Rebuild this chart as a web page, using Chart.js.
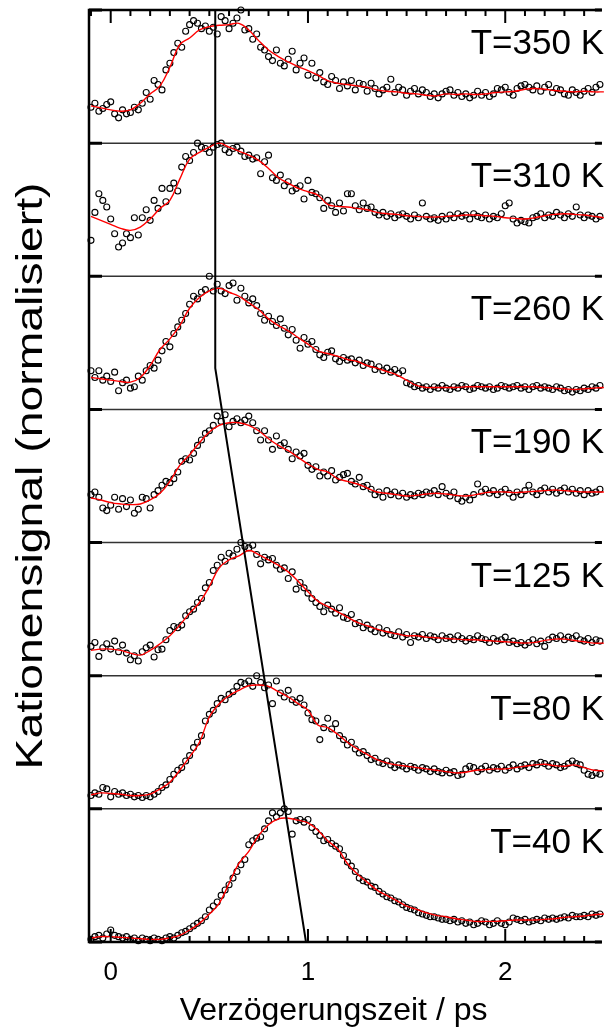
<!DOCTYPE html>
<html>
<head>
<meta charset="utf-8">
<script src="https://cdn.jsdelivr.net/npm/chart.js@4.4.0/dist/chart.umd.min.js"></script>
<style>
  html, body { margin: 0; padding: 0; background: #fff; }
  canvas { display: block; }
</style>
</head>
<body>
<canvas id="chart" width="607" height="1028"></canvas>
<script>
// delay grid of the measured points (ps)
const delay = [
  -0.10,-0.08,-0.06,-0.04,-0.02,0.00,0.02,0.04,0.06,0.08,
  0.10,0.12,0.14,0.16,0.18,0.20,0.22,0.24,0.26,0.28,
  0.30,0.32,0.34,0.36,0.38,0.40,0.42,0.44,0.46,0.48,
  0.50,0.52,0.54,0.56,0.58,0.60,0.62,0.64,0.66,0.68,
  0.70,0.72,0.74,0.76,0.78,0.80,0.82,0.84,0.86,0.88,
  0.90,0.92,0.94,0.96,0.98,1.00,1.02,1.04,1.06,1.08,
  1.10,1.12,1.14,1.16,1.18,1.20,1.22,1.24,1.26,1.28,
  1.30,1.32,1.34,1.36,1.38,1.40,1.42,1.44,1.46,1.48,
  1.50,1.52,1.54,1.56,1.58,1.60,1.62,1.64,1.66,1.68,
  1.70,1.72,1.74,1.76,1.78,1.80,1.82,1.84,1.86,1.88,
  1.90,1.92,1.94,1.96,1.98,2.00,2.02,2.04,2.06,2.08,
  2.10,2.12,2.14,2.16,2.18,2.20,2.22,2.24,2.26,2.28,
  2.30,2.32,2.34,2.36,2.38,2.40,2.42,2.44,2.46,2.48
];

// delay grid of the smoothed (red) curves
const fitDelay = [
  -0.10,-0.05,0.00,0.05,0.10,0.15,0.20,0.25,0.30,0.35,
  0.40,0.45,0.50,0.55,0.60,0.65,0.70,0.75,0.80,0.85,
  0.90,0.95,1.00,1.05,1.10,1.15,1.20,1.25,1.30,1.35,
  1.40,1.45,1.50,1.55,1.60,1.65,1.70,1.75,1.80,1.85,
  1.90,1.95,2.00,2.05,2.10,2.15,2.20,2.25,2.30,2.35,
  2.40,2.45,2.50
];

// panels from top to bottom
const temps = [350, 310, 260, 190, 125, 80, 40];
const xTicks = [0, 1, 2];

// normalised cation signal, each panel 0..1
const sig350 = [
  .27,.30,.24,.26,.29,.31,.22,.19,.25,.22,
  .23,.27,.25,.30,.38,.33,.47,.44,.40,.55,
  .60,.68,.75,.72,.84,.89,.92,.90,.86,.88,
  .84,.87,.82,.95,.92,.86,.90,.94,1.00,.85,
  .86,.78,.82,.72,.70,.65,.62,.70,.60,.58,
  .63,.69,.55,.60,.64,.51,.60,.49,.53,.46,
  .44,.50,.47,.41,.46,.43,.47,.40,.45,.44,
  .39,.45,.41,.37,.40,.42,.48,.38,.42,.40,
  .36,.39,.41,.37,.40,.38,.35,.37,.34,.37,
  .39,.40,.36,.38,.35,.37,.34,.36,.39,.36,
  .38,.35,.37,.41,.40,.42,.38,.36,.41,.43,
  .44,.42,.40,.43,.39,.42,.44,.38,.41,.40,
  .37,.36,.40,.38,.36,.39,.41,.38,.42,.44
];
const fit350 = [
  .28,.265,.25,.24,.25,.30,.37,.43,.57,.74,
  .79,.85,.875,.885,.89,.90,.85,.77,.70,.65,
  .61,.575,.545,.51,.47,.45,.44,.43,.42,.40,
  .39,.385,.375,.37,.36,.355,.37,.365,.37,.365,
  .37,.38,.385,.39,.405,.41,.405,.395,.39,.385,
  .39,.385,.385
];

const sig310 = [
  .27,.48,.62,.57,.52,.43,.32,.22,.25,.32,
  .29,.44,.31,.44,.50,.42,.57,.51,.66,.56,
  .66,.70,.64,.82,.90,.87,.93,1.00,.97,.96,
  .93,.97,.99,1.00,.95,.93,.96,.97,.94,.90,
  .91,.88,.89,.77,.86,.91,.74,.72,.76,.68,
  .71,.64,.66,.68,.58,.72,.63,.62,.59,.51,
  .57,.53,.48,.55,.49,.62,.62,.53,.50,.55,
  .51,.52,.48,.46,.48,.45,.47,.44,.46,.47,
  .45,.43,.46,.44,.55,.45,.43,.44,.42,.45,
  .43,.46,.44,.47,.45,.46,.43,.47,.45,.44,
  .46,.43,.45,.44,.47,.53,.55,.43,.40,.42,
  .41,.40,.44,.45,.47,.44,.46,.45,.48,.46,
  .44,.47,.45,.52,.46,.44,.46,.45,.43,.45
];
const fit310 = [
  .45,.42,.39,.36,.345,.37,.43,.51,.57,.73,
  .88,.93,.97,1.00,.97,.94,.91,.87,.81,.74,
  .70,.66,.635,.61,.54,.525,.52,.51,.50,.48,
  .47,.465,.455,.45,.445,.445,.45,.455,.46,.46,
  .455,.45,.44,.435,.43,.44,.455,.465,.47,.465,
  .46,.45,.44
];

const sig260 = [
  .29,.24,.29,.22,.25,.21,.28,.14,.20,.22,
  .16,.17,.25,.22,.29,.33,.31,.37,.44,.51,
  .47,.57,.62,.67,.72,.79,.85,.83,.88,.90,
  1.00,.89,.94,.89,.87,.93,.95,.82,.91,.85,
  .80,.83,.78,.72,.67,.70,.66,.63,.68,.61,
  .56,.60,.52,.46,.54,.49,.51,.45,.41,.39,
  .43,.44,.38,.36,.39,.37,.38,.35,.37,.33,
  .35,.34,.30,.32,.29,.31,.28,.30,.27,.29,
  .20,.19,.17,.18,.16,.17,.15,.17,.16,.18,
  .16,.15,.17,.16,.18,.17,.15,.16,.18,.17,
  .16,.17,.15,.16,.18,.17,.16,.17,.18,.16,
  .17,.15,.17,.18,.16,.17,.16,.15,.17,.16,
  .14,.15,.13,.15,.14,.16,.15,.17,.16,.18
];
const fit260 = [
  .24,.23,.22,.21,.205,.24,.33,.45,.53,.63,
  .76,.84,.89,.91,.88,.85,.80,.75,.68,.63,
  .59,.54,.49,.44,.42,.40,.375,.36,.33,.31,
  .285,.26,.22,.18,.165,.165,.165,.165,.17,.17,
  .17,.17,.17,.17,.17,.17,.165,.16,.155,.15,
  .155,.16,.165
];

const sig190 = [
  .36,.38,.34,.26,.24,.28,.34,.25,.33,.27,
  .32,.22,.25,.34,.33,.26,.36,.39,.43,.46,
  .45,.48,.53,.61,.63,.62,.67,.73,.77,.82,
  .84,.88,.95,.91,.96,.87,.91,.93,.90,.92,
  .95,.90,.84,.77,.84,.77,.70,.80,.73,.75,
  .70,.63,.68,.65,.67,.58,.55,.57,.50,.53,
  .50,.54,.47,.49,.51,.52,.46,.44,.49,.42,
  .43,.40,.36,.38,.34,.39,.36,.38,.35,.37,
  .34,.36,.35,.37,.36,.38,.37,.39,.36,.42,
  .37,.35,.38,.33,.31,.34,.32,.36,.44,.38,
  .40,.37,.39,.36,.38,.40,.37,.34,.38,.36,
  .39,.43,.38,.36,.39,.41,.38,.40,.37,.39,
  .41,.38,.40,.37,.39,.36,.39,.37,.38,.40
];
const fit190 = [
  .335,.32,.30,.29,.285,.29,.32,.37,.46,.58,
  .66,.75,.83,.88,.90,.90,.88,.84,.78,.73,
  .69,.64,.59,.55,.53,.48,.46,.44,.41,.38,
  .37,.36,.35,.355,.365,.37,.365,.355,.35,.36,
  .375,.38,.38,.375,.38,.385,.39,.395,.39,.385,
  .38,.38,.38
];

const sig125 = [
  .22,.25,.145,.21,.24,.20,.26,.18,.23,.17,
  .12,.15,.11,.18,.21,.23,.14,.195,.20,.27,
  .34,.37,.36,.38,.45,.48,.50,.55,.58,.66,
  .70,.79,.83,.89,.86,.92,.90,.95,1.00,.97,
  .96,.98,.91,.84,.89,.87,.88,.83,.80,.81,
  .73,.78,.65,.70,.66,.62,.58,.55,.52,.48,
  .53,.50,.47,.51,.44,.43,.46,.39,.40,.36,
  .38,.35,.33,.36,.32,.34,.31,.30,.33,.29,
  .31,.25,.30,.29,.31,.28,.30,.29,.27,.30,
  .28,.29,.27,.30,.28,.26,.28,.27,.30,.28,
  .27,.25,.28,.26,.27,.29,.25,.26,.24,.25,
  .23,.25,.27,.24,.26,.22,.27,.29,.28,.30,
  .27,.29,.28,.30,.27,.26,.28,.25,.27,.26
];
const fit125 = [
  .19,.20,.20,.19,.17,.155,.19,.24,.30,.38,
  .47,.55,.67,.81,.87,.90,.94,.91,.87,.83,
  .78,.71,.63,.56,.52,.48,.44,.40,.375,.35,
  .33,.315,.30,.30,.29,.285,.28,.275,.27,.27,
  .265,.26,.255,.25,.245,.25,.265,.275,.275,.265,
  .255,.245,.245
];

const sig80 = [
  .10,.12,.11,.16,.15,.09,.13,.11,.12,.10,
  .11,.09,.10,.085,.10,.09,.11,.13,.16,.18,
  .22,.26,.29,.31,.36,.40,.46,.50,.55,.66,
  .71,.74,.79,.83,.82,.86,.88,.92,.95,.94,
  .96,.92,1.00,.95,.91,.93,.79,.96,.87,.84,
  .89,.82,.80,.83,.78,.72,.67,.66,.52,.61,
  .68,.60,.64,.55,.52,.48,.50,.45,.42,.43,
  .40,.37,.38,.35,.34,.36,.33,.31,.33,.32,
  .30,.32,.31,.29,.31,.30,.28,.30,.28,.27,
  .29,.27,.28,.25,.26,.30,.32,.31,.28,.30,
  .32,.29,.31,.30,.32,.29,.31,.33,.30,.32,
  .33,.31,.34,.33,.35,.34,.32,.34,.33,.31,
  .32,.34,.36,.34,.33,.29,.26,.25,.27,.26
];
const fit80 = [
  .105,.12,.115,.11,.10,.10,.11,.15,.20,.29,
  .39,.50,.69,.79,.85,.89,.925,.93,.92,.88,
  .84,.79,.74,.63,.61,.56,.50,.45,.41,.37,
  .345,.33,.32,.31,.30,.29,.28,.27,.275,.29,
  .295,.30,.30,.31,.32,.33,.335,.325,.32,.33,
  .31,.29,.285
];

const sig40 = [
  .02,.04,.05,.03,.06,.09,.05,.04,.03,.04,
  .02,.03,.01,.03,.02,.01,.03,.02,.01,.03,
  .04,.03,.05,.07,.08,.10,.12,.14,.16,.19,
  .24,.27,.30,.35,.39,.43,.48,.53,.58,.62,
  .73,.76,.78,.79,.85,.91,.97,.94,.97,1.00,
  .98,.81,.91,.92,.90,.92,.86,.83,.80,.76,
  .77,.74,.72,.70,.65,.60,.57,.53,.48,.46,
  .45,.42,.41,.38,.36,.34,.33,.31,.30,.28,
  .26,.25,.24,.22,.21,.20,.19,.19,.18,.17,
  .17,.16,.17,.15,.16,.14,.15,.13,.14,.16,
  .15,.13,.14,.16,.14,.13,.15,.18,.17,.16,
  .17,.15,.16,.17,.16,.18,.17,.18,.17,.18,
  .19,.18,.20,.19,.19,.20,.19,.21,.20,.21
];
const fit40 = [
  .03,.04,.04,.035,.03,.025,.02,.02,.03,.05,
  .09,.14,.21,.29,.44,.59,.68,.80,.88,.925,
  .93,.915,.895,.84,.76,.70,.59,.51,.45,.39,
  .35,.31,.27,.245,.22,.20,.19,.175,.165,.155,
  .155,.155,.16,.165,.165,.165,.17,.175,.185,.19,
  .195,.205,.21
];

// peak-position guide line (delay, stacked y)
const guideX = [0.53, 0.53, 0.99];
const guideY = [7, 4.31, 0];

const signals = [sig350, sig310, sig260, sig190, sig125, sig80, sig40];
const fits = [fit350, fit310, fit260, fit190, fit125, fit80, fit40];

const FONT = '"Liberation Sans", Arial, Helvetica, sans-serif';
const nPanels = temps.length;

const datasets = [];
temps.forEach((t, p) => {
  const off = nPanels - 1 - p;   // top panel sits highest
  datasets.push({
    type: 'line',
    label: 'Fit ' + t + ' K',
    data: fitDelay.map((d, i) => ({ x: d, y: off + fits[p][i] })),
    borderColor: '#ff0000',
    borderWidth: 1.4,
    pointRadius: 0,
    tension: 0.4,
    fill: false,
    clip: false,
    order: 1
  });
  datasets.push({
    type: 'scatter',
    label: 'T=' + t + ' K',
    data: delay.map((d, i) => ({ x: d, y: off + signals[p][i] })),
    pointRadius: 3,
    pointBorderWidth: 1.1,
    pointBorderColor: '#000',
    pointBackgroundColor: 'rgba(0,0,0,0)',
    showLine: false,
    clip: false,
    order: 2
  });
});
datasets.push({
  type: 'line',
  label: 'Peak',
  data: guideX.map((d, i) => ({ x: d, y: guideY[i] })),
  borderColor: '#000',
  borderWidth: 2,
  pointRadius: 0,
  tension: 0,
  fill: false,
  order: 0
});

const framePlugin = {
  id: 'framePlugin',
  beforeDatasetsDraw(chart) {
    const { ctx, chartArea: a, scales: { y } } = chart;
    ctx.save();
    ctx.strokeStyle = '#333';
    ctx.lineWidth = 1.5;
    for (let k = 1; k < nPanels; k++) {
      const py = y.getPixelForValue(k);
      ctx.beginPath();
      ctx.moveTo(a.left, py);
      ctx.lineTo(a.right, py);
      ctx.stroke();
    }
    ctx.restore();
  },
  afterDatasetsDraw(chart) {
    const { ctx, chartArea: a, scales: { x, y } } = chart;
    ctx.save();
    ctx.strokeStyle = '#000';
    ctx.lineCap = 'butt';

    // frame: left, top, bottom
    ctx.lineWidth = 2.5;
    ctx.beginPath();
    ctx.moveTo(a.right, a.top);
    ctx.lineTo(a.left, a.top);
    ctx.lineTo(a.left, a.bottom);
    ctx.lineTo(a.right, a.bottom);
    ctx.stroke();

    // panel ticks on left and right edge
    ctx.lineWidth = 3;
    for (let k = 0; k <= nPanels; k++) {
      const py = y.getPixelForValue(k);
      ctx.beginPath();
      ctx.moveTo(a.left, py);
      ctx.lineTo(a.left + 13, py);
      ctx.moveTo(a.right - 7, py);
      ctx.lineTo(a.right, py);
      ctx.stroke();
    }

    // x ticks, inward, on top and bottom axis
    ctx.lineWidth = 2;
    for (let t = -1; t <= 24; t++) {
      const px = x.getPixelForValue(t / 10);
      const len = (t % 10 === 0) ? 13 : 6;
      ctx.beginPath();
      ctx.moveTo(px, a.bottom);
      ctx.lineTo(px, a.bottom - len);
      ctx.moveTo(px, a.top);
      ctx.lineTo(px, a.top + len);
      ctx.stroke();
    }

    ctx.fillStyle = '#000';

    // tick labels
    ctx.font = '26px ' + FONT;
    ctx.textAlign = 'center';
    ctx.textBaseline = 'alphabetic';
    xTicks.forEach(v => {
      ctx.fillText(String(v), x.getPixelForValue(v), a.bottom + 38);
    });

    // axis titles
    ctx.font = '32px ' + FONT;
    ctx.fillText('Verzögerungszeit / ps', x.getPixelForValue(1.13), a.bottom + 78);

    const yTitle = 'Kationensignal (normalisiert)';
    ctx.save();
    ctx.font = '37px ' + FONT;
    const w = ctx.measureText(yTitle).width;
    ctx.translate(42, 476);
    ctx.rotate(-Math.PI / 2);
    ctx.scale(587 / w, 1);
    ctx.fillText(yTitle, 0, 0);
    ctx.restore();

    // temperature labels
    ctx.font = '35px ' + FONT;
    ctx.textAlign = 'right';
    temps.forEach((t, p) => {
      const top = y.getPixelForValue(nPanels - p);
      ctx.fillText('T=' + t + ' K', 604, top + 44);
    });

    ctx.restore();
  }
};

new Chart(document.getElementById('chart'), {
  type: 'scatter',
  data: { datasets },
  options: {
    responsive: false,
    animation: false,
    devicePixelRatio: 1,
    events: [],
    layout: { padding: { left: 89, top: 10, right: 0, bottom: 86 } },
    plugins: {
      legend: { display: false },
      tooltip: { enabled: false }
    },
    scales: {
      x: { type: 'linear', min: -0.11, max: 2.49, display: false },
      y: { type: 'linear', min: 0, max: 7, display: false }
    }
  },
  plugins: [framePlugin]
});
</script>
</body>
</html>
